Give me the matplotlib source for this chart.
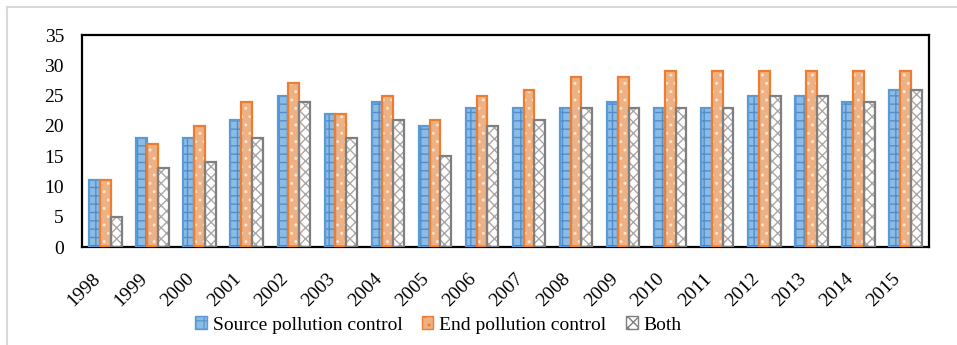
import matplotlib
matplotlib.use("Agg")
import matplotlib.pyplot as plt
import numpy as np
from matplotlib.lines import Line2D
from matplotlib.patches import Patch
from matplotlib.transforms import ScaledTranslation

years = ["1998", "1999", "2000", "2001", "2002", "2003", "2004", "2005", "2006",
         "2007", "2008", "2009", "2010", "2011", "2012", "2013", "2014", "2015"]
source_control = [11, 18, 18, 21, 25, 22, 24, 20, 23, 23, 23, 24, 23, 23, 25, 25, 24, 26]
end_control = [11, 17, 20, 24, 27, 22, 25, 21, 25, 26, 28, 28, 29, 29, 29, 29, 29, 29]
both_control = [5, 13, 14, 18, 24, 18, 21, 15, 20, 21, 23, 23, 23, 23, 25, 25, 24, 26]
series_names = ["Source pollution control", "End pollution control", "Both"]
y_ticks = [0, 5, 10, 15, 20, 25, 30, 35]

plt.rcParams["font.family"] = ["Liberation Serif", "DejaVu Serif"]
plt.rcParams["hatch.linewidth"] = 1.0

FS = 14

fig = plt.figure(figsize=(9.57, 3.45), dpi=100)
ax = fig.add_axes([82 / 957, 1 - 247 / 345, (929 - 82) / 957, (247 - 35) / 345])

x = np.arange(len(years))
w = 0.23

# (face colour, hatch, hatch colour, outline colour)
styles = [
    ("#8DBBE4", "++", "#4F8FD0", "#5B9BD5"),
    ("#EDB184", "..", "#FBE3CF", "#ED7D31"),
    ("#FFFFFF", "xxx", "#A8A8A8", "#7F7F7F"),
]
data = [source_control, end_control, both_control]
offsets = [-w, 0, w]

for vals, off, (fc, hatch, hc, ec) in zip(data, offsets, styles):
    ax.bar(x + off, vals, w, color=fc, hatch=hatch, edgecolor=hc, linewidth=0, zorder=2)
    ax.bar(x + off, vals, w, fill=False, edgecolor=ec, linewidth=1.6, zorder=3)

ax.set_xlim(-0.5, len(years) - 0.5)
ax.set_ylim(0, 35)
ax.set_yticks(y_ticks)
ax.set_yticklabels([str(t) for t in y_ticks], fontsize=FS)
ax.set_xticks(x)
ax.set_xticklabels(years, fontsize=FS, rotation=45, ha="right", va="center",
                   rotation_mode="anchor")
ax.tick_params(axis="both", length=0)
ax.tick_params(axis="y", pad=13)
ax.tick_params(axis="x", pad=21)
shift = ScaledTranslation(-8 / 100, 0, fig.dpi_scale_trans)
for lbl in ax.get_xticklabels():
    lbl.set_transform(lbl.get_transform() + shift)
for sp in ax.spines.values():
    sp.set_linewidth(1.6)
    sp.set_color("black")

handles = [Patch(facecolor=fc, hatch=hatch, edgecolor=ec, linewidth=1.0)
           for fc, hatch, hc, ec in styles]
fig.legend(handles, series_names, loc="center", bbox_to_anchor=(0.458, 1 - 325 / 345),
           ncol=3, frameon=False, fontsize=FS, handlelength=0.6, handleheight=0.6,
           handletextpad=0.3, columnspacing=1.0, borderaxespad=0, borderpad=0)

# light frame lines along the top and left of the figure
fig.add_artist(Line2D([7 / 957, 7 / 957], [0, 1 - 7 / 345], transform=fig.transFigure,
                      color="#D9D9D9", linewidth=1.5))
fig.add_artist(Line2D([7 / 957, 1], [1 - 7 / 345, 1 - 7 / 345], transform=fig.transFigure,
                      color="#D9D9D9", linewidth=1.5))

fig.savefig("out.png", dpi=100)
